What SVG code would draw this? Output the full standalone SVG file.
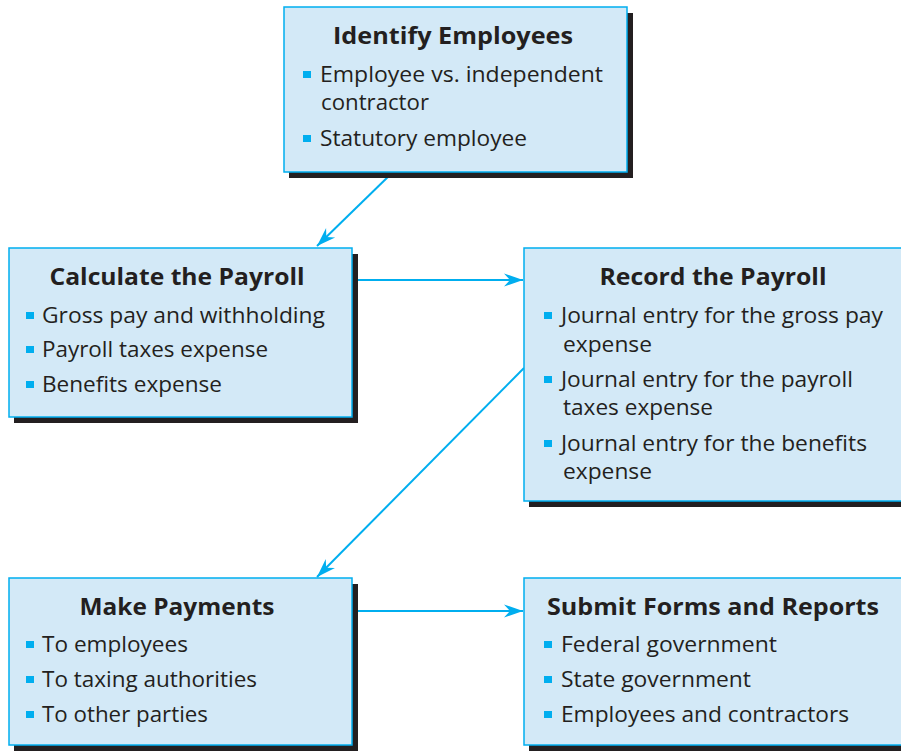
<svg xmlns="http://www.w3.org/2000/svg" width="901" height="751" viewBox="0 0 901 751">
<style>
.box{fill:#d3e9f7;stroke:#00aeef;stroke-width:1.5}
.shadow{fill:#231f20}
.title{font-family:"Open Sans","Liberation Sans",sans-serif;font-weight:bold;font-size:23px;fill:#231f20;text-anchor:middle}
.item{font-family:"Open Sans","Liberation Sans",sans-serif;font-size:21px;fill:#231f20}
.bul{fill:#00aeef}
.conn{stroke:#00aeef;stroke-width:2;fill:none}
</style>
<defs>
<marker id="arr" markerUnits="userSpaceOnUse" markerWidth="24" markerHeight="16" viewBox="-20 -8 22 16" refX="0" refY="0" orient="auto">
<path d="M0,0 L-19,-6.5 L-13,0 L-19,6.5 Z" fill="#00aeef"/>
</marker>
</defs>
<rect width="901" height="751" fill="#fff"/>
<g id="connectors">
<line class="conn" x1="393" y1="172" x2="317" y2="246" marker-end="url(#arr)"/>
<line class="conn" x1="352" y1="280" x2="523" y2="280" marker-end="url(#arr)"/>
<line class="conn" x1="524" y1="368" x2="317" y2="577" marker-end="url(#arr)"/>
<line class="conn" x1="352" y1="611" x2="523" y2="611" marker-end="url(#arr)"/>
</g>
<g id="identify">
<rect class="shadow" x="289" y="13" width="344" height="165"/>
<rect class="box" x="284" y="7" width="343" height="165"/>
<text class="title" x="453" y="44" textLength="240" lengthAdjust="spacingAndGlyphs">Identify Employees</text>
<rect class="bul" x="303" y="71" width="8" height="7"/>
<text class="item" x="320" y="82" textLength="283" lengthAdjust="spacingAndGlyphs">Employee vs. independent</text>
<text class="item" x="321" y="110" textLength="108" lengthAdjust="spacingAndGlyphs">contractor</text>
<rect class="bul" x="303" y="135" width="8" height="7"/>
<text class="item" x="320" y="146" textLength="207" lengthAdjust="spacingAndGlyphs">Statutory employee</text>
</g>
<g id="calculate">
<rect class="shadow" x="14" y="254" width="344" height="169"/>
<rect class="box" x="9" y="248" width="343" height="169"/>
<text class="title" x="177" y="285" textLength="255" lengthAdjust="spacingAndGlyphs">Calculate the Payroll</text>
<rect class="bul" x="26" y="312" width="8" height="7"/>
<text class="item" x="42" y="323" textLength="283" lengthAdjust="spacingAndGlyphs">Gross pay and withholding</text>
<rect class="bul" x="26" y="346" width="8" height="7"/>
<text class="item" x="42" y="357" textLength="226" lengthAdjust="spacingAndGlyphs">Payroll taxes expense</text>
<rect class="bul" x="26" y="381" width="8" height="7"/>
<text class="item" x="42" y="392" textLength="180" lengthAdjust="spacingAndGlyphs">Benefits expense</text>
</g>
<g id="record">
<rect class="shadow" x="529" y="254" width="390" height="253"/>
<rect class="box" x="524" y="248" width="390" height="253"/>
<text class="title" x="713" y="285" textLength="227" lengthAdjust="spacingAndGlyphs">Record the Payroll</text>
<rect class="bul" x="544" y="312" width="8" height="7"/>
<text class="item" x="561" y="323" textLength="322" lengthAdjust="spacingAndGlyphs">Journal entry for the gross pay</text>
<text class="item" x="563" y="352" textLength="89" lengthAdjust="spacingAndGlyphs">expense</text>
<rect class="bul" x="544" y="376" width="8" height="7"/>
<text class="item" x="561" y="387" textLength="292" lengthAdjust="spacingAndGlyphs">Journal entry for the payroll</text>
<text class="item" x="563" y="415" textLength="150" lengthAdjust="spacingAndGlyphs">taxes expense</text>
<rect class="bul" x="544" y="440" width="8" height="7"/>
<text class="item" x="561" y="451" textLength="306" lengthAdjust="spacingAndGlyphs">Journal entry for the benefits</text>
<text class="item" x="563" y="479" textLength="89" lengthAdjust="spacingAndGlyphs">expense</text>
</g>
<g id="payments">
<rect class="shadow" x="14" y="584" width="344" height="167"/>
<rect class="box" x="9" y="578" width="343" height="167"/>
<text class="title" x="177" y="615" textLength="195" lengthAdjust="spacingAndGlyphs">Make Payments</text>
<rect class="bul" x="26" y="641" width="8" height="7"/>
<text class="item" x="42" y="652" textLength="146" lengthAdjust="spacingAndGlyphs">To employees</text>
<rect class="bul" x="26" y="676" width="8" height="7"/>
<text class="item" x="42" y="687" textLength="215" lengthAdjust="spacingAndGlyphs">To taxing authorities</text>
<rect class="bul" x="26" y="711" width="8" height="7"/>
<text class="item" x="42" y="722" textLength="166" lengthAdjust="spacingAndGlyphs">To other parties</text>
</g>
<g id="submit">
<rect class="shadow" x="529" y="584" width="390" height="167"/>
<rect class="box" x="524" y="578" width="390" height="167"/>
<text class="title" x="713" y="615" textLength="332" lengthAdjust="spacingAndGlyphs">Submit Forms and Reports</text>
<rect class="bul" x="544" y="641" width="8" height="7"/>
<text class="item" x="561" y="652" textLength="216" lengthAdjust="spacingAndGlyphs">Federal government</text>
<rect class="bul" x="544" y="676" width="8" height="7"/>
<text class="item" x="561" y="687" textLength="190" lengthAdjust="spacingAndGlyphs">State government</text>
<rect class="bul" x="544" y="711" width="8" height="7"/>
<text class="item" x="561" y="722" textLength="288" lengthAdjust="spacingAndGlyphs">Employees and contractors</text>
</g>
</svg>
